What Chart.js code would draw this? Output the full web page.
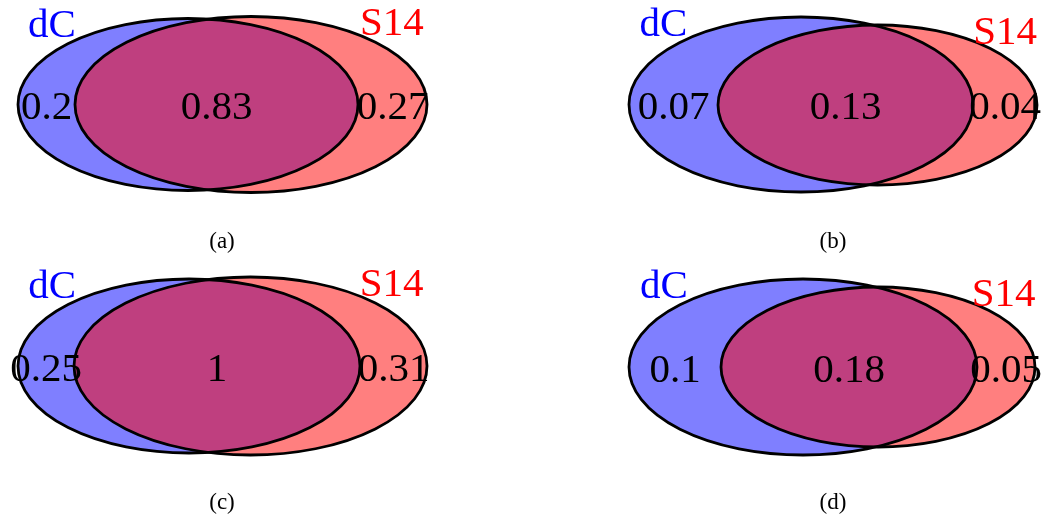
<!DOCTYPE html>
<html lang="en">
<head>
<meta charset="UTF-8">
<title>dC / S14 overlap</title>
<style>
  body { margin: 0; background: #fff; }
  .panel { position: absolute; width: 445px; height: 261px; }
</style>
</head>
<body>
<div class="panel" style="left:0;top:0"><canvas id="venn0" width="445" height="261"></canvas></div>
<div class="panel" style="left:600px;top:0"><canvas id="venn1" width="445" height="261"></canvas></div>
<div class="panel" style="left:0;top:261px"><canvas id="venn2" width="445" height="261"></canvas></div>
<div class="panel" style="left:600px;top:261px"><canvas id="venn3" width="445" height="261"></canvas></div>
<script src="https://cdn.jsdelivr.net/npm/chart.js"></script>
<script>
const captions = ['(a)', '(b)', '(c)', '(d)'];
const setNames = ['dC', 'S14'];
const onlyDC = [0.2, 0.07, 0.25, 0.1];
const shared = [0.83, 0.13, 1, 0.18];
const onlyS14 = [0.27, 0.04, 0.31, 0.05];

// fitted ellipse per panel [cx, cy, rx, ry], panel units
const dcShape = [[188, 104.5, 170, 86], [201, 104.5, 172, 87.5], [189, 105, 171, 87], [203, 106, 174, 88]];
const s14Shape = [[251, 104.5, 176, 88], [277.5, 105, 159.5, 80], [250.5, 105, 176.5, 89], [278, 106, 157, 80]];

const FONT = '"Liberation Serif", "Times New Roman", serif';

function ellipsePath(chart, s) {
    const { x, y } = chart.scales;
    const cx = x.getPixelForValue(s[0]), cy = y.getPixelForValue(s[1]);
    const rx = Math.abs(x.getPixelForValue(s[0] + s[2]) - cx);
    const ry = Math.abs(y.getPixelForValue(s[1] + s[3]) - cy);
    chart.ctx.beginPath();
    chart.ctx.ellipse(cx, cy, rx, ry, 0, 0, Math.PI * 2);
}

const vennPlugin = {
    id: 'venn',
    beforeDatasetsDraw(chart, args, opts) {
        const ctx = chart.ctx, i = opts.panel;
        ctx.save();
        ellipsePath(chart, dcShape[i]);
        ctx.fillStyle = 'rgba(0,0,255,0.5)';
        ctx.fill();
        ellipsePath(chart, s14Shape[i]);
        ctx.fillStyle = 'rgba(255,0,0,0.5)';
        ctx.fill();
        ctx.lineWidth = 2.8;
        ctx.strokeStyle = '#000';
        ellipsePath(chart, dcShape[i]);
        ctx.stroke();
        ellipsePath(chart, s14Shape[i]);
        ctx.stroke();
        ctx.restore();
    },
    afterDatasetsDraw(chart, args, opts) {
        const ctx = chart.ctx;
        const texts = chart.data.datasets[0].texts;
        ctx.save();
        chart.getDatasetMeta(0).data.forEach((pt, k) => {
            const t = texts[k];
            ctx.font = t.size + 'px ' + FONT;
            ctx.fillStyle = t.color;
            ctx.textAlign = 'center';
            ctx.textBaseline = 'alphabetic';
            ctx.fillText(t.text, pt.x, pt.y);
        });
        ctx.restore();
    }
};

captions.forEach((cap, i) => {
    const a = dcShape[i], b = s14Shape[i];
    const aL = a[0] - a[2], aR = a[0] + a[2];
    const bL = b[0] - b[2], bR = b[0] + b[2];
    const base = a[1] + 14.5;
    const points = [
        { x: (aL + bL) / 2, y: base },
        { x: (bL + aR) / 2, y: base },
        { x: (aR + bR) / 2, y: base },
        { x: a[0] - 0.8 * a[2], y: a[1] - a[3] + 18.5 },
        { x: b[0] + 0.8 * b[2], y: b[1] - b[3] + 18.5 },
        { x: i % 2 === 1 ? 233 : 222, y: 248 }
    ];
    const texts = [
        { text: String(onlyDC[i]), color: '#000', size: 41 },
        { text: String(shared[i]), color: '#000', size: 41 },
        { text: String(onlyS14[i]), color: '#000', size: 41 },
        { text: setNames[0], color: '#0000ff', size: 41 },
        { text: setNames[1], color: '#ff0000', size: 41 },
        { text: cap, color: '#000', size: 23 }
    ];
    new Chart(document.getElementById('venn' + i), {
        type: 'scatter',
        data: {
            datasets: [{ data: points, texts: texts, pointRadius: 0, pointHoverRadius: 0 }]
        },
        options: {
            responsive: false,
            animation: false,
            events: [],
            layout: { padding: 0 },
            scales: {
                x: { type: 'linear', min: 0, max: 445, display: false },
                y: { type: 'linear', min: 0, max: 261, reverse: true, display: false }
            },
            plugins: {
                legend: { display: false },
                tooltip: { enabled: false },
                venn: { panel: i }
            }
        },
        plugins: [vennPlugin]
    });
});
</script>
</body>
</html>
